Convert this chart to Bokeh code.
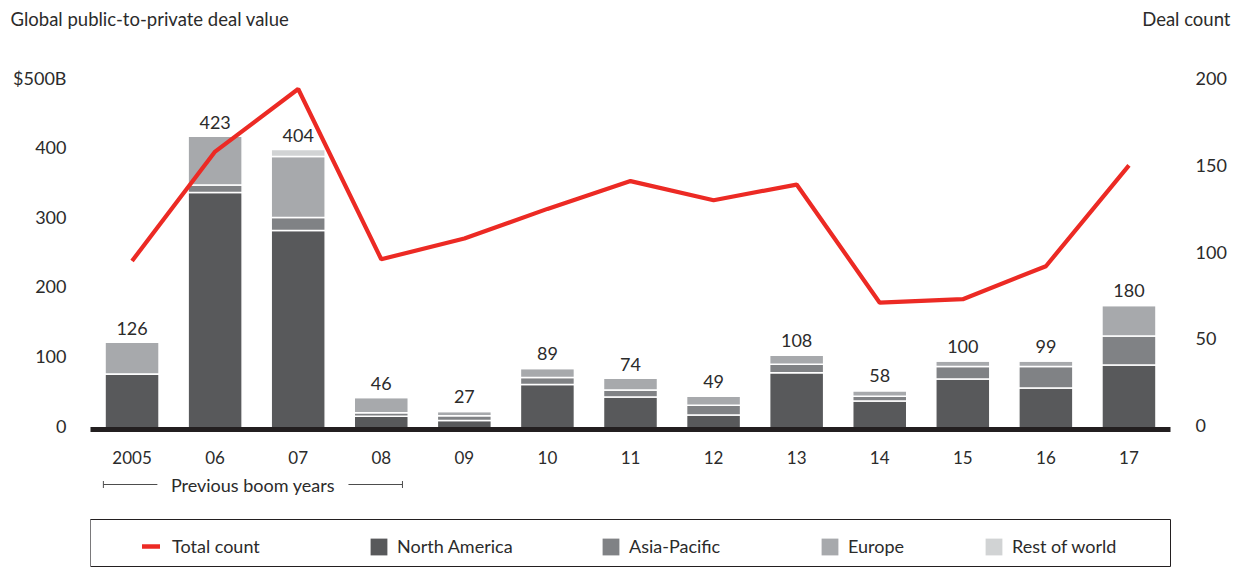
from bokeh.plotting import figure
from bokeh.models import (Range1d, LinearAxis, FixedTicker, Legend,
                          LegendItem, ColumnDataSource, Title)
from bokeh.layouts import column, row
from bokeh.embed import file_html
from bokeh.resources import INLINE
from bokeh.core.properties import value

# ---------------- data ----------------
years = ["2005", "06", "07", "08", "09", "10", "11", "12", "13", "14", "15", "16", "17"]
north_america = [80, 342, 287, 19, 13, 65, 47, 21, 82, 41, 73, 60, 93]
asia_pacific = [0, 11, 19, 5, 7, 10, 10, 14, 12, 7, 18, 31, 42]
europe = [46, 70, 88, 22, 6, 13, 17, 13, 13, 8, 8, 8, 44]
rest_of_world = [0, 0, 10, 0, 1, 1, 0, 1, 1, 2, 1, 0, 1]
total_value = [126, 423, 404, 46, 27, 89, 74, 49, 108, 58, 100, 99, 180]
deal_count = [97, 160, 196, 98, 110, 127, 143, 132, 141, 73, 75, 94, 152]
series = ["North America", "Asia-Pacific", "Europe", "Rest of world"]
value_ticks = [0, 100, 200, 300, 400, 500]
value_tick_labels = {500: "$500B"}
count_ticks = [0, 50, 100, 150, 200]
boom_years = ["2005", "06", "07", "08"]
left_title = "Global public-to-private deal value"
right_title = "Deal count"
boom_label = "Previous boom years"
line_label = "Total count"

# ---------------- style ----------------
FONT = "Lato"
TXT = "#2b2b2b"
RED = "#ec2a24"
colors = ["#58595b", "#808285", "#a7a9ac", "#d1d3d4"]
W = 1239
LB, RB = 90, 69          # frame spans x 90..1170


def bare(fig):
    fig.grid.visible = False
    return fig


def strip(width, height):
    return bare(figure(width=width, height=height, x_range=Range1d(0, 1),
                       y_range=Range1d(0, 1), output_backend="svg",
                       toolbar_location=None, x_axis_location=None,
                       y_axis_location=None, min_border_left=0,
                       min_border_right=0, min_border_top=0,
                       min_border_bottom=0, outline_line_color=None))


# ---------------- title strip ----------------
pt1 = strip(620, 40)
pt1.add_layout(Title(text=left_title, align="left", offset=10,
                     text_font=FONT, text_font_size="18.5px",
                     text_font_style="normal", text_color=TXT), "above")
pt2 = strip(619, 40)
pt2.add_layout(Title(text=right_title, align="right", offset=9,
                     text_font=FONT, text_font_size="18.5px",
                     text_font_style="normal", text_color=TXT), "above")
top = row(pt1, pt2)

# ---------------- main chart ----------------
x = list(range(len(years)))
src = ColumnDataSource(dict(
    x=x, na=north_america, ap=asia_pacific, eu=europe, row=rest_of_world,
    total=total_value, label=[str(v) for v in total_value], count=deal_count))

p = bare(figure(width=W, height=435,
                x_range=Range1d(-0.5, len(years) - 0.5),
                y_range=Range1d(0, 539.7),
                output_backend="svg", toolbar_location=None,
                x_axis_location=None, y_axis_location=None,
                min_border_left=LB, min_border_right=RB,
                min_border_top=15, min_border_bottom=46,
                outline_line_color=None))
p.extra_y_ranges = {
    "count": Range1d(0, 215.3),
    # tick labels in the original sit a few pixels above their values
    "value_axis": Range1d(-5.75, 532),
    "count_axis": Range1d(-2.3, 213.3),
}

p.vbar_stack(["na", "ap", "eu", "row"], x="x", width=0.65, source=src,
             fill_color=colors, line_color="white", line_width=1.5)
p.line("x", "count", source=src, y_range_name="count",
       line_color=RED, line_width=4.2)
p.text("x", "total", text="label", source=src, text_align="center",
       text_baseline="alphabetic", y_offset=-14, text_font=value(FONT),
       text_font_size="18px", text_color=TXT)


def style_axis(ax, standoff, size="18px"):
    ax.major_tick_line_color = None
    ax.minor_tick_line_color = None
    ax.major_tick_in = 0
    ax.major_tick_out = 0
    ax.major_label_standoff = standoff
    ax.major_label_text_font = FONT
    ax.major_label_text_font_size = size
    ax.major_label_text_color = TXT


ax_l = LinearAxis(y_range_name="value_axis",
                  ticker=FixedTicker(ticks=value_ticks),
                  major_label_overrides=value_tick_labels)
style_axis(ax_l, 24)
ax_l.axis_line_color = None
p.add_layout(ax_l, "left")

ax_r = LinearAxis(y_range_name="count_axis",
                  ticker=FixedTicker(ticks=count_ticks))
style_axis(ax_r, 25)
ax_r.axis_line_color = None
p.add_layout(ax_r, "right")

ax_b = LinearAxis(ticker=FixedTicker(ticks=x),
                  major_label_overrides={i: y for i, y in enumerate(years)})
style_axis(ax_b, 21, "17px")
ax_b.axis_line_color = "#231f20"
ax_b.axis_line_width = 5
p.add_layout(ax_b, "below")

# ---------------- bracket strip ----------------
pb = bare(figure(width=W, height=35, x_range=p.x_range, y_range=Range1d(35, 0),
                 output_backend="svg", toolbar_location=None,
                 x_axis_location=None, y_axis_location=None,
                 min_border_left=LB, min_border_right=RB,
                 min_border_top=0, min_border_bottom=0, outline_line_color=None))
b_start = years.index(boom_years[0]) - 0.345
b_end = years.index(boom_years[-1]) + 0.255
mid = (b_start + b_end) / 2
gap = 1.15
ly = 9
cap = 3.5
pb.segment(x0=[b_start, mid + gap, b_start, b_end],
           y0=[ly, ly, ly - cap, ly - cap],
           x1=[mid - gap, b_end, b_start, b_end],
           y1=[ly, ly, ly + cap, ly + cap],
           line_color="#4d4d4d", line_width=1)
pb.text(x=[mid], y=[ly], text=[boom_label], text_align="center",
        text_baseline="middle", text_font=value(FONT),
        text_font_size="18px", text_color=TXT)

# ---------------- legend strip ----------------
pl = bare(figure(width=W, height=57, x_range=Range1d(0, 1), y_range=Range1d(0, 1),
                 output_backend="svg", toolbar_location=None,
                 x_axis_location=None, y_axis_location=None,
                 min_border_left=LB, min_border_right=RB,
                 min_border_top=9, min_border_bottom=0,
                 outline_line_color="#231f20", outline_line_width=1))
# swatch renderers for the legend (their points sit outside the visible range)
r_line = pl.line(x=[-3, -2], y=[0.5, 0.5], line_color=RED, line_width=4.5,
                 line_cap="round")
r_bars = [pl.vbar(x=[-3], top=[1], width=0.5, fill_color=c, line_color=None)
          for c in colors]

legend_common = dict(orientation="horizontal", padding=0, margin=0,
                     label_text_font=FONT, label_text_font_size="18px",
                     label_text_color=TXT, border_line_color=None,
                     background_fill_alpha=0)
pl.add_layout(Legend(items=[LegendItem(label=line_label, renderers=[r_line])],
                     location=(52, 10), glyph_width=18, glyph_height=20,
                     label_standoff=12, **legend_common))
legend_x = [278, 510, 729, 893]
for s, r, lx in zip(series, r_bars, legend_x):
    pl.add_layout(Legend(items=[LegendItem(label=s, renderers=[r])],
                         location=(lx, 10), glyph_width=21, glyph_height=21,
                         label_standoff=8, **legend_common))

layout = column(top, p, pb, pl)
open("out.html", "w").write(file_html(layout, INLINE))
